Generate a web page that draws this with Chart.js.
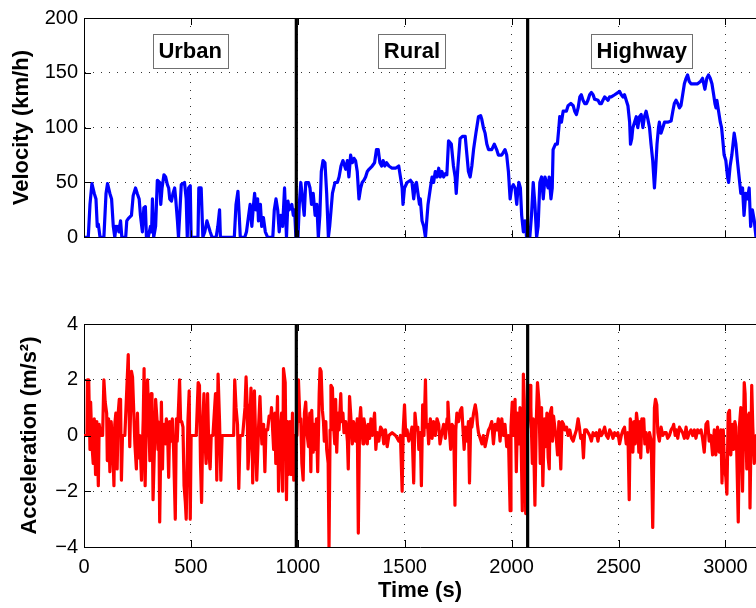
<!DOCTYPE html>
<html><head><meta charset="utf-8">
<script src="https://cdn.jsdelivr.net/npm/chart.js@4.4.0/dist/chart.umd.min.js"></script>
<style>
html,body{margin:0;padding:0;background:#fff;overflow:hidden;}
#wrap{position:relative;width:756px;height:608px;background:#fff;overflow:hidden;}
canvas{position:absolute;left:0;top:0;}
</style></head><body>
<div id="wrap"><canvas id="cv" width="756" height="608"></canvas><canvas id="ca" width="756" height="608"></canvas></div>
<script>
// ---------- data ----------
const velTime = [0,20,28,37,48,56,62,67,75,93,103,110,121,129,137,144,150,156,160,163,171,177,195,200,207,222,230,241,249,258,264,273,280,287,292,300,311,316,320,326,335,343,354,359,365,374,382,390,396,401,409,416,424,429,437,442,455,470,478,483,489,497,501,533,537,548,556,565,575,590,599,618,626,634,638,703,711,720,726,731,752,760,770,777,785,792,798,804,812,816,825,831,839,848,859,883,890,898,906,913,921,929,938,947,954,960,972,979,985,991,
1001,1007,1014,1022,1030,1037,1050,1057,1064,1072,1081,1089,1096,1103,1110,1118,1127,1135,1143,1149,1162,1174,1185,1193,1202,1211,1224,1232,1239,1247,1255,1263,1270,1278,1286,1294,1301,1309,1317,1325,1333,1348,1359,1368,1376,1384,1392,1399,1407,1415,1426,1441,1457,1472,1480,1488,1492,1499,1511,1527,1534,1542,1550,1555,1562,1569,1573,1581,1589,1597,1601,1609,1620,1628,1635,1643,1651,1659,1666,1674,1682,1690,1697,1705,1718,1728,1736,1741,1749,1759,1770,1783,1791,1798,1806,1814,1822,1833,1845,1855,1860,1868,1876,1884,1892,1907,1919,1930,1938,1954,1969,1977,1985,1993,2000,2008,2016,2024,2028,2034,2041,2047,2055,2063,2070,
2085,2093,2101,2109,2117,2124,2132,2140,2148,2156,2163,2171,2176,2184,2190,2194,2205,2214,2221,2225,2233,2241,2256,2264,2277,2288,2295,2303,2311,2319,2326,2334,2342,2350,2357,2365,2373,2381,2388,2404,2412,2420,2427,2435,2451,2458,2466,2482,2497,2505,2513,2521,2528,2536,2544,2552,2556,2562,2567,2575,2583,2590,2598,2606,2614,2621,2629,2637,2645,2652,2660,2668,2673,2680,2687,2691,2699,2707,2715,2730,2746,2754,2761,2769,2777,2785,2792,2800,2808,2816,2823,2831,2839,2855,2870,2883,2893,2904,2913,2921,2929,2937,2945,2951,2956,2960,2968,2976,2982,2987,2994,3002,3010,3015,3022,3030,3041,3049,3056,3064,3072,3080,3087,3095,3103,3111,3118,3126,3135,3143];
const velKmh = [0,0,30,49,40,35,10,12,0,0,40,49,40,35,10,0,10,8,10,5,15,0,0,15,17,20,38,45,40,35,20,5,27,28,0,0,10,5,35,0,10,52,50,30,45,57,55,48,45,35,33,40,45,35,15,0,48,50,35,0,45,47,0,0,45,45,0,5,15,5,0,0,10,25,0,0,30,42,20,0,0,5,20,30,10,28,40,25,35,15,30,10,18,5,0,0,25,35,25,5,20,10,45,0,33,25,30,20,25,0,
0,30,50,35,20,50,50,45,30,40,20,30,0,20,60,70,68,40,0,10,40,50,50,55,65,70,62,70,55,75,68,72,70,60,35,45,50,52,55,60,62,65,68,80,80,68,65,70,65,68,65,63,63,65,55,45,30,45,50,52,50,35,48,50,40,30,35,15,10,0,10,30,45,55,50,60,55,63,55,60,55,58,57,88,85,65,55,40,65,90,92,92,75,60,55,65,80,95,110,111,108,100,95,85,80,80,85,80,75,75,80,75,60,35,45,48,45,30,40,50,45,20,5,15,0,
0,20,50,30,0,10,50,55,35,55,50,45,55,35,45,80,85,85,100,110,105,115,115,120,122,120,115,112,118,128,130,125,122,122,125,130,132,130,126,125,122,122,125,128,125,128,128,130,132,133,130,128,130,125,120,105,85,90,100,105,110,100,110,112,100,110,115,108,100,85,70,45,60,85,100,105,95,100,105,105,106,115,122,125,122,118,120,130,140,145,148,142,140,140,140,142,145,135,145,148,145,140,130,122,118,125,115,105,100,90,75,70,55,50,65,75,95,85,70,55,40,45,20,40,35,45,10,25,15,0];

const accTime = [0,14,16,22,28,31,37,43,48,54,60,67,71,78,87,93,99,106,109,115,121,127,134,140,144,149,155,160,165,171,175,180,191,207,211,214,222,227,233,238,245,250,255,261,269,277,281,286,292,297,303,308,314,318,323,331,335,342,346,351,354,362,367,370,374,381,385,390,396,401,408,413,419,427,432,436,447,452,457,463,468,474,478,486,492,497,501,525,534,540,545,550,556,561,565,571,578,584,590,595,603,615,621,627,634,640,646,700,705,711,718,724,730,742,753,758,763,767,773,781,786,789,797,801,808,817,823,828,832,840,846,851,859,866,874,877,887,893,897,905,910,918,924,929,933,941,947,952,956,963,969,975,981,986,996,
1003,1010,1014,1019,1025,1031,1037,1044,1050,1056,1061,1065,1072,1076,1081,1087,1093,1100,1104,1109,1115,1120,1124,1131,1135,1142,1146,1151,1155,1162,1166,1173,1177,1182,1188,1193,1201,1205,1211,1216,1224,1232,1236,1242,1247,1255,1260,1266,1270,1278,1283,1289,1294,1298,1305,1309,1317,1325,1329,1336,1342,1348,1359,1365,1371,1379,1387,1395,1402,1410,1418,1426,1441,1457,1465,1472,1480,1488,1493,1499,1505,1511,1519,1527,1534,1542,1548,1555,1561,1566,1573,1578,1584,1590,1597,1601,1607,1612,1620,1628,1635,1643,1651,1659,1665,1674,1682,1690,1698,1702,1708,1715,1721,1729,1735,1739,1744,1752,1760,1767,1772,1778,1784,1791,1798,1803,1809,1814,1822,1830,1836,1840,1845,1853,1861,1868,1876,1884,1892,1899,1907,1915,1923,1931,1938,1946,1954,1962,1969,1977,1985,1993,1997,2003,2010,2016,2022,2028,2035,2039,2044,2050,2055,2059,2066,2070,
2075,2086,2090,2097,2101,2109,2115,2121,2128,2134,2140,2146,2153,2159,2165,2171,2176,2180,2187,2191,2196,2202,2210,2215,2221,2230,2236,2243,2249,2257,2264,2272,2280,2288,2295,2303,2311,2317,2323,2330,2336,2342,2350,2358,2365,2373,2381,2389,2396,2404,2412,2420,2427,2435,2443,2451,2459,2466,2474,2482,2490,2497,2505,2513,2521,2528,2536,2544,2550,2555,2561,2567,2573,2578,2584,2590,2595,2600,2604,2609,2614,2618,2623,2629,2637,2645,2653,2660,2668,2673,2679,2684,2691,2699,2707,2715,2723,2730,2738,2746,2754,2758,2765,2771,2777,2785,2792,2800,2808,2816,2823,2831,2839,2847,2855,2862,2870,2878,2886,2893,2901,2909,2917,2924,2932,2940,2948,2955,2963,2971,2979,2984,2990,2996,3002,3007,3013,3019,3025,3033,3038,3044,3049,3053,3060,3066,3072,3080,3088,3092,3100,3106,3111,3115,3123,3128,3135,3143];
const accMs2 = [0,0,2.0,2.0,-0.5,1.2,-0.3,-1.0,0.6,-1.4,0.5,-1.8,0.4,0,0,2.0,1.2,0.8,-0.9,0.6,-1.3,0.5,-0.3,-1.8,0.4,0.8,-1.2,0.8,1.3,1.3,-1.6,0,0,2.9,0.8,-0.4,2.3,2.1,0.8,-0.3,-1.2,0.8,-0.8,0,-1.6,0.6,2.4,-1.8,0.8,2.0,0.6,-0.9,1.5,1.3,-2.3,0,1.3,0.5,-0.5,-0.2,-3.1,1.2,-1.2,0,0.4,-0.3,0.6,0.4,-1.5,0.5,-0.2,0.6,-0.5,-3.0,0.6,-0.2,2.0,0.5,0.5,0.3,-1.8,-2.4,-3.0,0.5,1.6,-3.0,0,0,1.9,1.8,-1.0,-2.4,0.5,1.5,0,-1.0,1.5,-0.6,-1.2,0,0,1.5,-1.6,2.2,0.5,-1.6,0,0,2.0,1.0,0.4,-1.9,0,0,1.0,2.1,1.1,-1.2,-0.4,1.7,0.5,-1.7,1.6,0.4,-1.6,0.4,1.4,0.3,-0.3,0.4,-1.3,0.2,0.2,0.7,0.7,1.0,-0.5,0.8,-1.0,1.4,-2.0,0.2,0.8,-2.0,2.4,1.9,-2.3,0.5,-1.4,0.5,-1.4,0.8,-1.6,0,0,
2.0,0.5,0.6,-1.0,-1.6,0.8,1.2,0,-0.4,0.8,-1.3,0.9,-0.6,0.4,-0.5,0.6,-1.3,1.5,2.4,2.3,0.9,0.5,-0.2,0.5,-0.5,-1.0,-4.0,0.2,1.8,1.7,0.5,-0.3,1.3,-0.6,0.8,0.2,1.5,0.5,0.8,0.1,0.5,-0.2,-1.2,1.4,0.8,-0.3,0.5,0.3,-0.2,0.6,-3.5,0.5,1.0,0.4,-0.3,0.6,0.2,-0.3,0.4,-0.1,0.6,0,0.8,-0.5,0.1,-0.2,0.3,0.2,-0.3,0.2,-0.4,0,0.1,0,-0.1,-0.2,0,-2.0,0.2,1.1,0,0.2,-0.2,0,0.3,-1.7,0.8,0.2,0.3,-0.5,0.1,-1.8,1.1,0,2.0,0.3,0.4,-0.3,0.6,-0.1,0.5,0,0.6,0.4,-0.3,0.1,0.4,-0.1,0.6,1.2,0.3,-0.5,0.4,0.3,-2.5,0.2,0.8,0.5,0.9,1.0,0.3,-0.5,0.3,-0.2,0.5,-1.7,0.6,0.3,0.8,1.1,0.8,0.4,0.1,-0.1,-0.3,0,-0.4,-0.1,0.2,0.3,0.5,-0.3,0.4,0.2,0.6,-0.2,0.6,0,0.4,-0.4,0,-2.7,0.3,1.2,0,1.3,-1.3,0.8,-0.3,1.0,0,-2.7,2.2,1.3,-2.8,0,
0.3,1.8,1.0,-1.0,0.6,-2.5,0.4,1.9,1.2,-1.0,1.0,-1.8,0.6,-0.4,0.8,-0.8,-1.2,0.8,1.0,-0.2,0.7,0.3,-0.2,-0.7,0.5,-1.2,0.5,0.4,0.2,0.3,0,0.2,-0.1,-0.2,0,0.2,0.6,0.3,-0.1,0,-0.8,0.2,0.2,0.1,0,-0.2,0.1,0,0.1,-0.2,0.2,0,0.1,0.3,0,-0.1,0.2,0.1,-0.1,0.1,0,0.1,-0.3,0,0.2,0.3,-0.3,0.1,-2.3,0.6,0.4,-0.6,0.5,-0.3,0.8,0.4,-0.6,0.5,-0.8,0.6,0.3,0.6,-0.3,0.1,-0.6,0.1,-0.2,-3.3,1.0,1.3,1.1,0.1,-0.2,0.3,0,0.1,0.1,-0.1,0,0.2,0.3,0.4,0,0.2,-0.1,0.3,0.2,0.1,-0.1,0.3,-0.1,0.1,0.2,0,0.2,-0.1,0.2,0.1,0.2,-0.1,-0.6,0.4,0.5,-0.2,0,-0.7,0.2,-0.7,0.3,-0.6,0.2,-1.7,0.2,-1.2,-1.5,-2.1,0.8,0.9,-0.7,0.4,-0.5,0.5,0.3,-0.6,-3.1,0.4,1.0,-2.0,1.9,1.5,-1.2,0.7,0.8,-2.6,1.8,0.3,-1.0,0];

const segmentBounds = [993, 2075];
const cycleEnd = 3143;
const segmentNames = ['Urban', 'Rural', 'Highway'];
const segmentLabelVelocity = 170;
const timeRange = [0, 3143];
const timeTicks = [0, 500, 1000, 1500, 2000, 2500, 3000];
const velTicks = [0, 50, 100, 150, 200];
const accTicks = [-4, -2, 0, 2, 4];

// ---------- drawing ----------
const FONT = "'Liberation Sans', Arial, Helvetica, sans-serif";
const pairs = (xs, ys) => xs.map((t, i) => ({x: t, y: ys[i]}));
const fmt = v => (v < 0 ? '\u2212' + Math.abs(v) : String(v));

const framePlugin = {
  id: 'frame',
  afterDraw(chart, args, opts) {
    const {ctx, chartArea: a, scales: {x, y}} = chart;
    ctx.save();
    ctx.strokeStyle = '#000';
    ctx.lineWidth = 1;
    ctx.beginPath();
    ctx.moveTo(a.left, a.top + 0.5); ctx.lineTo(a.right, a.top + 0.5);
    const L = 7;
    x.ticks.forEach(t => {
      const px = Math.round(x.getPixelForValue(t.value)) + 0.5;
      ctx.moveTo(px, a.bottom); ctx.lineTo(px, a.bottom - L);
      ctx.moveTo(px, a.top); ctx.lineTo(px, a.top + L);
    });
    y.ticks.forEach(t => {
      const py = Math.round(y.getPixelForValue(t.value)) + 0.5;
      ctx.moveTo(a.left, py); ctx.lineTo(a.left + L, py);
    });
    ctx.stroke();
    if (opts.labels) {
      const edges = [timeRange[0]].concat(segmentBounds, [cycleEnd]);
      ctx.font = "bold 22px " + FONT;
      ctx.textAlign = 'center';
      ctx.textBaseline = 'middle';
      segmentNames.forEach((name, i) => {
        const cx = x.getPixelForValue((edges[i] + edges[i + 1]) / 2);
        const cy = y.getPixelForValue(segmentLabelVelocity);
        const w = ctx.measureText(name).width + 11;
        const h = 34;
        ctx.fillStyle = '#fff';
        ctx.fillRect(cx - w / 2, cy - h / 2, w, h);
        ctx.strokeStyle = '#707070';
        ctx.lineWidth = 1;
        ctx.strokeRect(Math.round(cx - w / 2) + 0.5, Math.round(cy - h / 2) + 0.5, Math.round(w), h);
        ctx.fillStyle = '#000';
        ctx.fillText(name, cx, cy + 1);
      });
    }
    ctx.restore();
  }
};

function boundaryDatasets(yMin, yMax) {
  return segmentBounds.map(b => ({
    data: [{x: b, y: yMin}, {x: b, y: yMax}],
    borderColor: '#000', borderWidth: 3.2, pointRadius: 0, order: 0
  }));
}

function makeChart(id, cfg) {
  return new Chart(document.getElementById(id), {
    type: 'line',
    data: {datasets: boundaryDatasets(cfg.yTicks[0], cfg.yTicks[cfg.yTicks.length - 1]).concat([{
      data: cfg.data, borderColor: cfg.color, borderWidth: 3.2, pointRadius: 0,
      tension: 0, borderJoinStyle: 'round', borderCapStyle: 'round', order: 1
    }])},
    options: {
      responsive: false, animation: false, devicePixelRatio: 1,
      layout: {padding: cfg.padding},
      plugins: {legend: {display: false}, tooltip: {enabled: false}, frame: {labels: cfg.labels}},
      scales: {
        x: {
          type: 'linear', min: timeRange[0], max: timeRange[1],
          afterBuildTicks: s => { s.ticks = timeTicks.map(v => ({value: v})); },
          afterFit: s => { s.height = cfg.xHeight; },
          grid: {color: 'rgba(0,0,0,0.8)', lineWidth: 1, drawTicks: false},
          border: {display: true, color: '#000', width: 1, dash: [1, 7]},
          ticks: {display: cfg.xLabels, padding: 8, color: '#000', font: {family: FONT, size: 20}, maxRotation: 0, autoSkip: false, callback: v => fmt(v)},
          title: {display: cfg.xLabels, text: 'Time (s)', color: '#000', font: {family: FONT, size: 22, weight: 'bold'}, padding: {top: 0, bottom: 3.7}}
        },
        y: {
          type: 'linear', min: cfg.yTicks[0], max: cfg.yTicks[cfg.yTicks.length - 1],
          afterBuildTicks: s => { s.ticks = cfg.yTicks.map(v => ({value: v})); },
          afterFit: s => { s.width = 84; },
          grid: {color: 'rgba(0,0,0,0.8)', lineWidth: 1, drawTicks: false},
          border: {display: true, color: '#000', width: 1, dash: [1, 7]},
          ticks: {padding: 6, color: '#000', font: {family: FONT, size: 20}, callback: v => fmt(v)},
          title: {display: true, text: cfg.yTitle, color: '#000', font: {family: FONT, size: 22, weight: 'bold'}, padding: {top: cfg.yTitlePad, bottom: 0}}
        }
      }
    },
    plugins: [framePlugin]
  });
}

makeChart('cv', {
  data: pairs(velTime, velKmh), color: '#0000ff', yTicks: velTicks,
  padding: {top: 14.7, bottom: 370.7, left: 0, right: -2.6}, xHeight: 0, xLabels: false,
  yTitle: 'Velocity (km/h)', yTitlePad: 8.4, labels: true
});
makeChart('ca', {
  data: pairs(accTime, accMs2), color: '#ff0000', yTicks: accTicks,
  padding: {top: 324, bottom: 0, left: 0, right: -2.6}, xHeight: 61, xLabels: true,
  yTitle: 'Acceleration (m/s\u00b2)', yTitlePad: 16.8, labels: false
});
</script>
</body></html>
